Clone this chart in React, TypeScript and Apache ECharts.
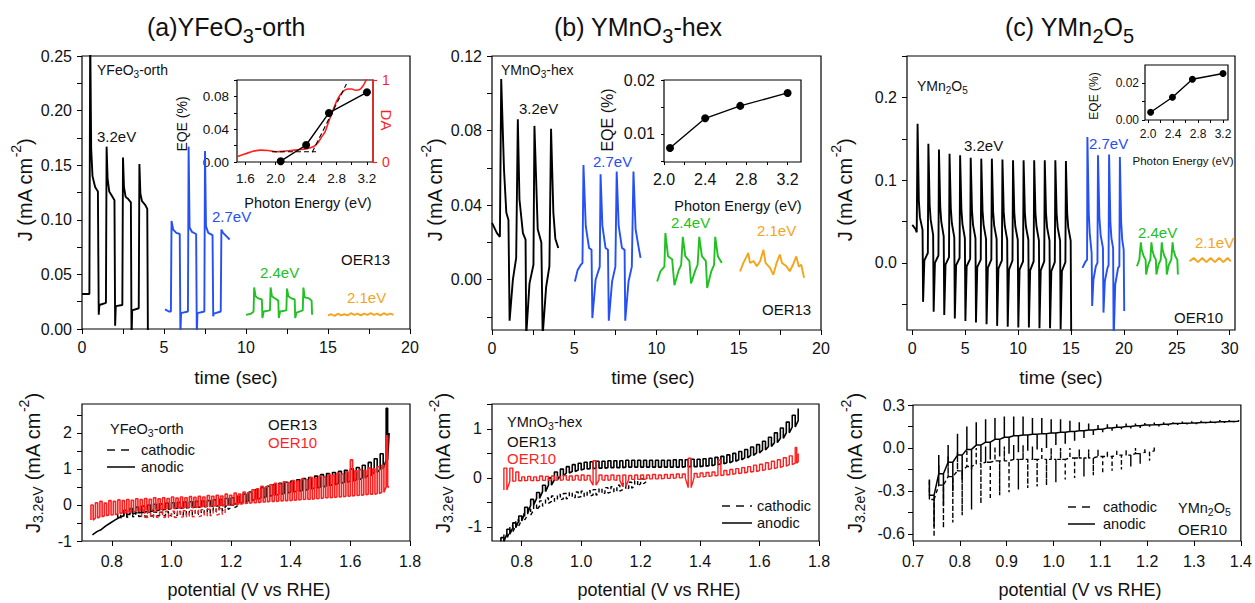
import React, { useEffect, useRef } from 'react';
import * as echarts from 'echarts';

const FONT = '"Liberation Sans", Arial, Helvetica, sans-serif';
const BLUE = '#2450f5';
const GREEN = '#22c022';
const ORANGE = '#f5a41c';
const RED = '#ff1f1f';
const INK = '#111111';

// ---------- (a) YFeO3-orth transients (time s, J mA cm-2)
const aBlack = [[0,0.032],[0.45,0.032],[0.5,0.27],[0.56,0.165],[0.64,0.14],[0.8,0.13],[0.97,0.126],[1.02,0.013],[1.06,0.022],[1.46,0.024],[1.5,0.167],[1.56,0.138],[1.66,0.126],[1.82,0.122],[1.98,0.118],[2.02,0.003],[2.06,0.021],[2.46,0.022],[2.5,0.157],[2.56,0.13],[2.66,0.121],[2.82,0.119],[2.98,0.116],[3.02,-0.01],[3.06,0.017],[3.46,0.019],[3.5,0.151],[3.56,0.124],[3.66,0.117],[3.84,0.114],[3.98,0.11],[4.02,-0.01]];
const aBlue = [[5.06,0.018],[5.3,0.016],[5.42,0.016],[5.46,0.099],[5.56,0.091],[5.75,0.088],[5.96,0.087],[6.0,-0.006],[6.04,0.0146],[6.46,0.016],[6.5,0.167],[6.56,0.093],[6.7,0.089],[6.96,0.087],[7.0,-0.006],[7.04,0.0146],[7.46,0.016],[7.5,0.163],[7.56,0.094],[7.7,0.088],[7.96,0.086],[8.0,0.0116],[8.04,0.014],[8.46,0.016],[8.5,0.091],[8.6,0.088],[8.8,0.085],[9.0,0.082]];
const aGreen = [[10.0,0.013],[10.3,0.014],[10.46,0.016],[10.5,0.038],[10.58,0.03],[10.75,0.028],[10.97,0.027],[11.0,0.01],[11.08,0.016],[11.46,0.017],[11.5,0.038],[11.58,0.03],[11.78,0.028],[11.97,0.026],[12.0,0.01],[12.08,0.016],[12.46,0.017],[12.5,0.037],[12.58,0.03],[12.78,0.028],[12.97,0.027],[13.0,0.01],[13.08,0.015],[13.46,0.017],[13.5,0.038],[13.58,0.029],[13.85,0.028],[14.0,0.026],[14.03,0.013]];
const aOrange = [[15.0,0.0125],[15.2,0.0135],[15.4,0.012],[15.6,0.014],[15.8,0.0125],[16.0,0.0135],[16.2,0.0125],[16.4,0.0145],[16.6,0.013],[16.8,0.014],[17.0,0.0125],[17.2,0.014],[17.4,0.013],[17.6,0.0145],[17.8,0.013],[18.0,0.014],[18.2,0.0125],[18.4,0.0145],[18.6,0.013],[18.8,0.014],[19.0,0.013]];

// ---------- (b) YMnO3-hex transients
const bBlack = [[0,0.0305],[0.3,0.025],[0.48,0.023],[0.56,0.1076],[0.73,0.059],[0.87,0.036],[1.0,0.032],[1.07,-0.022],[1.27,0.0],[1.47,0.0117],[1.57,0.086],[1.67,0.043],[1.88,0.025],[2.04,0.0215],[2.08,-0.03],[2.28,-0.002],[2.52,0.008],[2.58,0.0825],[2.78,0.027],[3.0,0.02],[3.08,-0.03],[3.29,-0.004],[3.49,0.0072],[3.59,0.081],[3.73,0.036],[3.85,0.022],[4.03,0.017]];
const bBlue = [[5.04,-0.001],[5.2,0.005],[5.4,0.008],[5.5,0.009],[5.56,0.0615],[5.7,0.0287],[5.9,0.017],[6.05,0.016],[6.1,-0.0206],[6.3,0.0],[6.55,0.007],[6.6,0.0565],[6.71,0.029],[6.9,0.017],[7.05,0.016],[7.1,-0.022],[7.3,-0.001],[7.5,0.007],[7.58,0.058],[7.7,0.029],[7.9,0.017],[8.06,0.016],[8.1,-0.022],[8.3,-0.001],[8.5,0.007],[8.6,0.058],[8.73,0.027],[8.9,0.018],[9.03,0.0117]];
const bGreen = [[10.04,-0.001],[10.24,0.0045],[10.48,0.007],[10.54,0.025],[10.7,0.0126],[10.95,0.011],[11.09,-0.003],[11.35,0.005],[11.5,0.008],[11.6,0.023],[11.75,0.0126],[12.0,0.01],[12.1,-0.002],[12.36,0.005],[12.5,0.008],[12.6,0.023],[12.76,0.0126],[13.0,0.01],[13.08,-0.0045],[13.33,0.0045],[13.5,0.008],[13.57,0.023],[13.73,0.0126],[13.97,0.009]];
const bOrange = [[15.08,0.0045],[15.28,0.009],[15.48,0.0125],[15.58,0.0143],[15.68,0.009],[15.9,0.01],[16.1,0.0072],[16.3,0.0099],[16.5,0.016],[16.63,0.009],[16.9,0.0063],[17.1,0.0027],[17.3,0.009],[17.5,0.0135],[17.63,0.009],[17.9,0.0072],[18.1,0.0045],[18.3,0.008],[18.5,0.0125],[18.65,0.007],[18.8,0.008],[18.97,0.001]];

// ---------- (c) YMn2O5 transients
const cBlack = [[0.0,0.046],[0.3,0.041],[0.42,0.037],
[0.5,0.168],[0.62,0.075],[0.72,0.055],[0.97,0.04],[1.02,-0.047],[1.14,0.003],[1.47,0.012],
[1.52,0.144],[1.64,0.07],[1.74,0.052],[1.97,0.034],[2.02,-0.059],[2.14,0.0],[2.47,0.009],
[2.52,0.137],[2.64,0.068],[2.74,0.05],[2.97,0.032],[3.02,-0.063],[3.14,-0.002],[3.47,0.007],
[3.52,0.132],[3.64,0.066],[3.74,0.048],[3.97,0.031],[4.02,-0.067],[4.14,-0.003],[4.47,0.006],
[4.52,0.13],[4.64,0.065],[4.74,0.047],[4.97,0.03],[5.02,-0.07],[5.14,-0.004],[5.47,0.005],
[5.52,0.127],[5.64,0.064],[5.74,0.046],[5.97,0.03],[6.02,-0.072],[6.14,-0.005],[6.47,0.004],
[6.52,0.126],[6.64,0.063],[6.74,0.046],[6.97,0.029],[7.02,-0.074],[7.14,-0.006],[7.47,0.004],
[7.52,0.126],[7.64,0.062],[7.74,0.045],[7.97,0.029],[8.02,-0.076],[8.14,-0.007],[8.47,0.003],
[8.52,0.125],[8.64,0.062],[8.74,0.045],[8.97,0.028],[9.02,-0.077],[9.14,-0.008],[9.47,0.003],
[9.52,0.124],[9.64,0.061],[9.74,0.044],[9.97,0.028],[10.02,-0.078],[10.14,-0.008],[10.47,0.002],
[10.52,0.124],[10.64,0.061],[10.74,0.044],[10.97,0.028],[11.02,-0.078],[11.14,-0.009],[11.47,0.002],
[11.52,0.124],[11.64,0.06],[11.74,0.044],[11.97,0.027],[12.02,-0.079],[12.14,-0.009],[12.47,0.002],
[12.52,0.124],[12.64,0.06],[12.74,0.043],[12.97,0.027],[13.02,-0.079],[13.14,-0.01],[13.47,0.001],
[13.52,0.124],[13.64,0.06],[13.74,0.043],[13.97,0.027],[14.02,-0.08],[14.14,-0.01],[14.47,0.001],
[14.52,0.123],[14.64,0.06],[14.74,0.043],[14.97,0.027],[15.02,-0.09]];
const cBlue = [[16.08,-0.006],[16.39,0.002],[16.52,0.004],[16.55,0.152],[16.68,0.06],[16.77,0.036],[16.95,0.012],[17.0,-0.052],[17.12,-0.02],[17.35,-0.004],[17.5,0.0],[17.55,0.13],[17.68,0.055],[17.8,0.034],[18.02,0.018],[18.07,-0.06],[18.2,-0.022],[18.45,-0.006],[18.55,-0.003],[18.6,0.131],[18.72,0.05],[18.82,0.03],[18.98,0.018],[19.03,-0.095],[19.18,-0.026],[19.45,-0.006],[19.57,-0.004],[19.62,0.128],[19.74,0.05],[19.84,0.028],[19.98,0.016],[20.03,-0.058]];
const cGreen = [[21.23,-0.004],[21.46,0.004],[21.6,0.025],[21.68,0.016],[21.87,0.008],[22.05,0.004],[22.1,-0.014],[22.3,-0.002],[22.5,0.004],[22.6,0.025],[22.68,0.016],[22.85,0.008],[23.02,0.004],[23.07,-0.014],[23.27,-0.002],[23.48,0.004],[23.58,0.025],[23.66,0.016],[23.83,0.008],[24.0,0.004],[24.05,-0.014],[24.25,-0.002],[24.48,0.004],[24.6,0.025],[24.68,0.016],[24.86,0.008],[25.05,0.004],[25.1,-0.014]];
const cOrange = [[26.2,0.002],[26.6,0.006],[27.0,0.001],[27.4,0.006],[27.8,0.001],[28.2,0.006],[28.6,0.001],[29.0,0.006],[29.4,0.001],[29.8,0.006],[30.1,0.002]];

// ---------- insets: EQE (%) vs photon energy (eV)
const eqeA = [[2.065,0.001],[2.4,0.0207],[2.7,0.0598],[3.2,0.085]];
const daA = [[1.49,0.065],[1.6,0.1],[1.7,0.13],[1.8,0.145],[1.9,0.14],[2.0,0.125],[2.1,0.13],[2.2,0.14],[2.3,0.15],[2.4,0.16],[2.5,0.19],[2.55,0.23],[2.6,0.3],[2.65,0.37],[2.7,0.5],[2.75,0.62],[2.8,0.74],[2.85,0.82],[2.9,0.87],[2.95,0.89],[3.0,0.89],[3.05,0.875],[3.1,0.88],[3.15,0.93],[3.19,1.0],[3.22,1.05]];
const fitA1 = [[1.95,0.0125],[2.53,0.0125]];
const fitA2 = [[2.48,0.012],[2.93,0.095]];
const eqeB = [[2.058,0.0074],[2.4,0.0129],[2.74,0.0152],[3.2,0.0176]];
const eqeC = [[2.04,0.0042],[2.39,0.0123],[2.71,0.022],[3.2,0.0251]];

// ---------- chopped LSV, [potential, dark, light]
const lsvA_anoBlackLine = [[0.735,-0.83],[0.75,-0.74],[0.765,-0.68],[0.78,-0.58],[0.795,-0.5],[0.81,-0.42],[0.825,-0.35],[0.84,-0.3]];
const lsvA_anoBlack = [[0.84,-0.28,-0.15],[0.86,-0.25,-0.1],[0.88,-0.22,-0.06],[0.9,-0.2,-0.03],[0.92,-0.18,0.0],[0.94,-0.16,0.02],[0.96,-0.14,0.03],[0.98,-0.12,0.05],[1.0,-0.1,0.06],[1.02,-0.09,0.07],[1.04,-0.08,0.08],[1.06,-0.07,0.09],[1.08,-0.06,0.1],[1.1,-0.05,0.11],[1.12,-0.04,0.12],[1.14,-0.03,0.14],[1.16,-0.02,0.16],[1.18,0.0,0.18],[1.2,0.02,0.2],[1.22,0.05,0.24],[1.24,0.08,0.3],[1.26,0.12,0.36],[1.28,0.16,0.42],[1.3,0.2,0.48],[1.32,0.24,0.52],[1.34,0.27,0.56],[1.36,0.3,0.6],[1.38,0.33,0.63],[1.4,0.36,0.66],[1.42,0.38,0.7],[1.44,0.41,0.73],[1.46,0.44,0.76],[1.48,0.47,0.8],[1.5,0.5,0.84],[1.52,0.53,0.87],[1.54,0.56,0.9],[1.56,0.6,0.93],[1.58,0.63,0.96],[1.6,0.66,1.0],[1.62,0.7,1.04],[1.64,0.75,1.1],[1.66,0.82,1.18],[1.68,0.9,1.28],[1.7,1.0,1.42],[1.72,1.25,2.68],[1.73,2.0,2.0]];
const lsvA_catBlack = [[0.82,-0.36,-0.26],[0.84,-0.34,-0.24],[0.86,-0.33,-0.22],[0.88,-0.32,-0.22],[0.9,-0.31,-0.21],[0.92,-0.31,-0.2],[0.94,-0.3,-0.2],[0.96,-0.3,-0.2],[0.98,-0.3,-0.19],[1.0,-0.29,-0.19],[1.02,-0.29,-0.18],[1.04,-0.28,-0.18],[1.06,-0.27,-0.17],[1.08,-0.26,-0.15],[1.1,-0.24,-0.13],[1.12,-0.22,-0.11],[1.14,-0.19,-0.08],[1.16,-0.16,-0.06],[1.18,-0.12,-0.03],[1.2,-0.08,0.0],[1.22,-0.04,0.02]];
const lsvA_anoRed = [[0.73,-0.42,0.0],[0.745,-0.36,0.06],[0.76,-0.33,0.1],[0.775,-0.3,0.05],[0.79,-0.28,0.12],[0.805,-0.27,0.1],[0.82,-0.24,0.14],[0.835,-0.22,0.12],[0.85,-0.2,0.15],[0.865,-0.2,0.13],[0.88,-0.17,0.17],[0.895,-0.16,0.15],[0.91,-0.14,0.18],[0.925,-0.15,0.16],[0.94,-0.12,0.2],[0.955,-0.13,0.17],[0.97,-0.11,0.2],[0.985,-0.1,0.18],[1.0,-0.1,0.22],[1.015,-0.08,0.19],[1.03,-0.09,0.22],[1.045,-0.07,0.2],[1.06,-0.06,0.23],[1.075,-0.07,0.21],[1.09,-0.05,0.24],[1.105,-0.04,0.22],[1.12,-0.04,0.26],[1.135,-0.03,0.24],[1.15,-0.02,0.27],[1.165,-0.02,0.25],[1.18,0.0,0.3],[1.195,0.0,0.27],[1.21,0.02,0.33],[1.225,0.02,0.3],[1.24,0.04,0.36],[1.255,0.05,0.34],[1.27,0.06,0.42],[1.285,0.06,0.45],[1.3,0.08,0.52],[1.315,0.08,0.5],[1.33,0.1,0.56],[1.345,0.1,0.6],[1.36,0.11,0.58],[1.375,0.12,0.64],[1.39,0.12,0.62],[1.405,0.13,0.68],[1.42,0.14,0.66],[1.435,0.15,0.72],[1.45,0.16,0.7],[1.465,0.16,0.76],[1.48,0.17,0.74],[1.495,0.18,0.8],[1.51,0.2,0.78],[1.525,0.2,0.84],[1.54,0.21,0.82],[1.555,0.22,0.88],[1.57,0.23,0.86],[1.585,0.24,0.92],[1.6,0.25,1.25],[1.615,0.26,0.95],[1.63,0.27,0.98],[1.645,0.28,0.96],[1.66,0.3,1.02],[1.675,0.3,1.0],[1.69,0.32,1.06],[1.705,0.35,1.1],[1.72,0.5,1.92],[1.73,0.5,0.5]];
const lsvA_catRed = [[0.9,-0.34,-0.18],[0.92,-0.35,-0.18],[0.94,-0.34,-0.17],[0.96,-0.35,-0.18],[0.98,-0.34,-0.17],[1.0,-0.35,-0.17],[1.02,-0.34,-0.16],[1.04,-0.33,-0.16],[1.06,-0.33,-0.15],[1.08,-0.32,-0.14],[1.1,-0.31,-0.13],[1.12,-0.3,-0.12],[1.14,-0.28,-0.11],[1.16,-0.26,-0.1],[1.18,-0.24,-0.08]];

const lsvB_anoBlack = [[0.73,-1.3,-1.22],[0.75,-1.15,-1.05],[0.77,-1.02,-0.92],[0.79,-0.88,-0.78],[0.81,-0.72,-0.6],[0.83,-0.56,-0.44],[0.85,-0.42,-0.3],[0.87,-0.28,-0.15],[0.89,-0.15,0.0],[0.91,-0.04,0.12],[0.93,0.04,0.18],[0.95,0.1,0.23],[0.97,0.13,0.27],[0.99,0.16,0.3],[1.01,0.18,0.32],[1.03,0.19,0.33],[1.05,0.2,0.34],[1.07,0.2,0.34],[1.09,0.21,0.35],[1.11,0.21,0.35],[1.13,0.21,0.35],[1.15,0.22,0.36],[1.17,0.22,0.36],[1.19,0.22,0.36],[1.21,0.22,0.36],[1.23,0.22,0.36],[1.25,0.22,0.36],[1.27,0.22,0.36],[1.29,0.22,0.36],[1.31,0.22,0.37],[1.33,0.22,0.37],[1.35,0.23,0.37],[1.37,0.23,0.38],[1.39,0.23,0.38],[1.41,0.24,0.39],[1.43,0.25,0.4],[1.45,0.27,0.42],[1.47,0.29,0.44],[1.49,0.31,0.47],[1.51,0.34,0.5],[1.53,0.37,0.54],[1.55,0.41,0.58],[1.57,0.46,0.63],[1.59,0.51,0.68],[1.61,0.57,0.75],[1.63,0.64,0.83],[1.65,0.72,0.92],[1.67,0.81,1.02],[1.69,0.92,1.14],[1.71,1.04,1.28],[1.73,1.17,1.42]];
const lsvB_catBlack = [[0.74,-1.24,-1.14],[0.76,-1.1,-0.98],[0.78,-0.98,-0.86],[0.8,-0.86,-0.74],[0.82,-0.76,-0.64],[0.84,-0.66,-0.55],[0.86,-0.58,-0.47],[0.88,-0.52,-0.41],[0.9,-0.48,-0.37],[0.92,-0.45,-0.34],[0.94,-0.43,-0.32],[0.96,-0.41,-0.3],[0.98,-0.4,-0.29],[1.0,-0.38,-0.27],[1.02,-0.37,-0.26],[1.04,-0.35,-0.24],[1.06,-0.33,-0.22],[1.08,-0.31,-0.2],[1.1,-0.29,-0.18],[1.12,-0.27,-0.15],[1.14,-0.24,-0.12],[1.16,-0.21,-0.09],[1.18,-0.17,-0.06],[1.2,-0.12,-0.02],[1.22,-0.07,0.02]];
const lsvB_anoRed = [[0.74,-0.25,0.2],[0.76,-0.07,0.2],[0.78,-0.06,0.12],[0.8,-0.06,0.02],[0.82,-0.05,0.03],[0.84,-0.06,0.02],[0.86,-0.05,0.04],[0.88,-0.05,0.03],[0.9,-0.04,0.04],[0.92,-0.05,0.03],[0.94,-0.04,0.05],[0.96,-0.05,0.04],[0.98,-0.04,0.05],[1.0,-0.05,0.06],[1.02,-0.04,0.05],[1.04,-0.15,0.35],[1.06,-0.04,0.06],[1.08,-0.05,0.05],[1.1,-0.04,0.06],[1.12,-0.05,0.05],[1.14,-0.18,0.06],[1.16,-0.03,0.05],[1.18,-0.03,0.06],[1.2,-0.03,0.06],[1.22,-0.02,0.06],[1.24,-0.02,0.07],[1.26,-0.02,0.06],[1.28,-0.01,0.07],[1.3,-0.01,0.07],[1.32,0.0,0.08],[1.34,0.0,0.08],[1.36,-0.2,0.4],[1.38,0.01,0.09],[1.4,0.02,0.1],[1.42,0.03,0.11],[1.44,0.04,0.12],[1.46,0.05,0.36],[1.48,0.06,0.15],[1.5,0.07,0.17],[1.52,0.09,0.19],[1.54,0.1,0.21],[1.56,0.12,0.23],[1.58,0.13,0.26],[1.6,0.15,0.28],[1.62,0.17,0.31],[1.64,0.19,0.34],[1.66,0.21,0.37],[1.68,0.24,0.41],[1.7,0.27,0.45],[1.72,0.3,0.62],[1.73,0.33,0.5]];

// (c) [potential, dark, light-on spike, light-off spike]
const lsvC_ano = [[0.735,-0.33,-0.22,-0.55],[0.755,-0.18,-0.05,-0.4],[0.775,-0.1,0.02,-0.3],[0.795,-0.05,0.1,-0.22],[0.815,-0.01,0.15,-0.15],[0.835,0.02,0.18,-0.1],[0.855,0.04,0.2,-0.08],[0.875,0.06,0.21,-0.06],[0.895,0.075,0.22,-0.04],[0.915,0.085,0.22,-0.03],[0.935,0.09,0.22,-0.02],[0.955,0.095,0.21,-0.01],[0.975,0.1,0.21,0.0],[0.995,0.105,0.2,0.02],[1.015,0.11,0.2,0.03],[1.035,0.115,0.19,0.05],[1.055,0.12,0.18,0.07],[1.075,0.125,0.17,0.09],[1.095,0.13,0.16,0.11],[1.115,0.14,0.165,0.12],[1.135,0.145,0.165,0.13],[1.155,0.15,0.17,0.135],[1.175,0.155,0.17,0.14],[1.195,0.16,0.175,0.148],[1.215,0.162,0.178,0.15],[1.235,0.165,0.18,0.155],[1.255,0.17,0.18,0.16],[1.275,0.172,0.185,0.163],[1.295,0.175,0.186,0.166],[1.315,0.178,0.19,0.17],[1.335,0.18,0.19,0.172],[1.355,0.183,0.195,0.175],[1.375,0.185,0.195,0.178],[1.395,0.187,0.196,0.18]];
const lsvC_cat = [[0.735,-0.36,-0.22,-0.62],[0.755,-0.26,-0.12,-0.56],[0.775,-0.2,-0.06,-0.52],[0.795,-0.16,-0.03,-0.47],[0.815,-0.13,-0.01,-0.43],[0.835,-0.11,0.0,-0.39],[0.855,-0.1,0.01,-0.36],[0.875,-0.09,0.01,-0.33],[0.895,-0.09,0.01,-0.31],[0.915,-0.08,0.02,-0.29],[0.935,-0.08,0.02,-0.28],[0.955,-0.08,0.01,-0.27],[0.975,-0.08,0.01,-0.26],[0.995,-0.08,0.0,-0.24],[1.015,-0.08,0.0,-0.22],[1.035,-0.07,0.0,-0.21],[1.055,-0.07,-0.01,-0.2],[1.075,-0.07,-0.01,-0.19],[1.095,-0.06,-0.01,-0.18],[1.115,-0.06,-0.02,-0.16],[1.135,-0.05,-0.01,-0.15],[1.155,-0.05,-0.01,-0.13],[1.175,-0.04,0.0,-0.11],[1.195,-0.03,0.0,-0.09],[1.215,-0.02,0.01,-0.06]];

// ---------- tick / label values
const tAx = [0, 5, 10, 15, 20];
const tAyTicks = [0, 0.05, 0.1, 0.15, 0.2, 0.25];
const tByTicks = [-0.02, 0, 0.02, 0.04, 0.06, 0.08, 0.1, 0.12];
const tByLabels = [0, 0.04, 0.08, 0.12];
const tCx = [0, 5, 10, 15, 20, 25, 30];
const tCyTicks = [-0.05, 0, 0.05, 0.1, 0.15, 0.2, 0.25];
const tCyLabels = [0, 0.1, 0.2];
const lAB_x = [0.8, 1.0, 1.2, 1.4, 1.6, 1.8];
const lA_yTicks = [-1, -0.5, 0, 0.5, 1, 1.5, 2, 2.5];
const lA_yLabels = [-1, 0, 1, 2];
const lB_yTicks = [-1, -0.5, 0, 0.5, 1, 1.5];
const lB_yLabels = [-1, 0, 1];
const lC_x = [0.7, 0.8, 0.9, 1.0, 1.1, 1.2, 1.3, 1.4];
const lC_yTicks = [-0.6, -0.45, -0.3, -0.15, 0, 0.15, 0.3];
const lC_yLabels = [-0.6, -0.3, 0, 0.3];
const iAxTicks = [1.6, 1.8, 2.0, 2.2, 2.4, 2.6, 2.8, 3.0, 3.2];
const iAxLabels = [1.6, 2.0, 2.4, 2.8, 3.2];
const iAyTicks = [0, 0.02, 0.04, 0.06, 0.08, 0.1];
const iAyLabels = [0, 0.04, 0.08];
const iBCxTicks = [2.0, 2.2, 2.4, 2.6, 2.8, 3.0, 3.2];
const iBCxLabels = [2.0, 2.4, 2.8, 3.2];
const iByTicks = [0.005, 0.01, 0.015, 0.02];
const iByLabels = [0.01, 0.02];
const iCyTicks = [0, 0.01, 0.02];
const iCyLabels = [0, 0.02];

function square(tr: number[][]) {
  const pts: number[][] = [];
  tr.forEach((t, i) => {
    const [v, lo, hi] = t;
    pts.push([v, lo], [v, hi]);
    if (i < tr.length - 1) {
      const mid = (v + tr[i + 1][0]) / 2;
      pts.push([mid, hi], [mid, lo]);
    }
  });
  return pts;
}

function spikes(q: number[][]) {
  const pts: number[][] = [];
  q.forEach((t, i) => {
    const [v, base, top, bottom] = t;
    pts.push([v, base], [v, top], [v, base]);
    if (i < q.length - 1) {
      const mid = (v + q[i + 1][0]) / 2;
      pts.push([mid, base], [mid, bottom], [mid, base]);
    }
  });
  return pts;
}

const f0 = (v: number) => String(Math.round(v));
const f1 = (v: number) => v.toFixed(1);
const f2 = (v: number) => v.toFixed(2);

function axis(grid: number, min: number, max: number, ticks: number[], labels: number[], fmt: any, size: number, margin: number, len: number, extra: any = {}) {
  return {
    type: 'value', gridIndex: grid, min, max,
    axisLine: { show: false, onZero: false },
    splitLine: { show: false },
    axisTick: { show: true, customValues: ticks, length: len, inside: false, lineStyle: { color: '#000', width: 1 } },
    axisLabel: { show: true, customValues: labels, formatter: fmt, fontSize: size, fontFamily: FONT, color: INK, margin },
    ...extra,
  };
}

function line(xi: number, yi: number, data: number[][], color: string, width: number, dash?: any, extra: any = {}) {
  return {
    type: 'line', xAxisIndex: xi, yAxisIndex: yi, data,
    symbol: 'none', showSymbol: false, clip: true, silent: true,
    lineStyle: { color, width, type: dash || 'solid' },
    itemStyle: { color },
    ...extra,
  };
}

function rs(size: number, color: string, shift: number) {
  const s: any = { fontSize: size, fontFamily: FONT, fill: color };
  if (shift > 0) s.padding = [2 * shift, 0, 0, 0];
  if (shift < 0) s.padding = [0, 0, -2 * shift, 0];
  return s;
}
function richSet(color: string, base: number, sub: number, subShift: number, sup = 0, supShift = 0) {
  return { n: rs(base, color, 0), s: rs(sub || base, color, subShift), b: rs(sub || base, color, subShift), p: rs(sup || base, color, -supShift) };
}

function T(x: number, y: number, text: string, o: any = {}) {
  return {
    type: 'text', x, y, silent: true, rotation: o.rot || 0,
    style: {
      text, fill: o.color || INK, fontSize: o.size || 15, fontFamily: FONT,
      align: o.align || 'left', verticalAlign: 'middle', rich: o.rich,
    },
  };
}
function L(x1: number, y1: number, x2: number, y2: number, dashed: boolean) {
  return {
    type: 'line', silent: true,
    shape: { x1, y1, x2, y2 },
    style: { stroke: INK, lineWidth: 1.6, lineDash: dashed ? [8, 6] : null },
  };
}

function buildOption() {
  const gridDefs = [
    { left: 82, top: 56, width: 328, height: 273 },
    { left: 492, top: 56, width: 329, height: 274 },
    { left: 907, top: 56, width: 328, height: 274 },
    { left: 82, top: 404, width: 328, height: 137 },
    { left: 492, top: 404, width: 327, height: 137 },
    { left: 913, top: 405, width: 329, height: 136 },
    { left: 237, top: 80, width: 136, height: 82, backgroundColor: '#fff' },
    { left: 664, top: 80, width: 137, height: 82, backgroundColor: '#fff' },
    { left: 1145, top: 65, width: 83, height: 55, backgroundColor: '#fff' },
  ];
  const grid = gridDefs.map((g: any) => ({
    show: true, borderColor: '#000', borderWidth: 1.2, containLabel: false,
    backgroundColor: g.backgroundColor || 'transparent',
    left: g.left, top: g.top, width: g.width, height: g.height,
  }));

  const xAxis = [
    axis(0, 0, 20, [0, 2.5, 5, 7.5, 10, 12.5, 15, 17.5, 20], tAx, f0, 16, 10, 5),
    axis(1, 0, 20, [0, 2.5, 5, 7.5, 10, 12.5, 15, 17.5, 20], tAx, f0, 16, 10, 5),
    axis(2, -0.5, 30.5, tCx, tCx, f0, 16, 10, 5),
    axis(3, 0.7, 1.8, lAB_x, lAB_x, f1, 16, 12, 5),
    axis(4, 0.7, 1.8, lAB_x, lAB_x, f1, 16, 12, 5),
    axis(5, 0.7, 1.4, lC_x, lC_x, f1, 16, 12, 5),
    axis(6, 1.49, 3.28, iAxTicks, iAxLabels, f1, 13.5, 9, 3),
    axis(7, 2.0, 3.33, iBCxTicks, iBCxLabels, f1, 16, 9, 3),
    axis(8, 1.95, 3.28, iBCxTicks, iBCxLabels, f1, 12, 8, 3),
  ];
  const yAxis = [
    axis(0, 0, 0.25, [0, 0.025, 0.05, 0.075, 0.1, 0.125, 0.15, 0.175, 0.2, 0.225, 0.25], tAyTicks, f2, 16, 10, 5),
    axis(1, -0.027, 0.12, tByTicks, tByLabels, f2, 16, 10, 5),
    axis(2, -0.081, 0.25, tCyTicks, tCyLabels, f1, 16, 10, 5),
    axis(3, -1, 2.8, lA_yTicks, lA_yLabels, f0, 16, 10, 5),
    axis(4, -1.29, 1.51, lB_yTicks, lB_yLabels, f0, 16, 10, 5),
    axis(5, -0.65, 0.3, lC_yTicks, lC_yLabels, f1, 16, 8, 5),
    axis(6, 0, 0.1, iAyTicks, iAyLabels, f2, 13.5, 8, 3),
    axis(7, 0.0048, 0.02, iByTicks, iByLabels, f2, 16, 9, 3),
    axis(8, 0, 0.0297, iCyTicks, iCyLabels, f2, 12, 6, 3),
    {
      type: 'value', gridIndex: 6, position: 'right', min: 0, max: 1,
      axisLine: { show: true, onZero: false, lineStyle: { color: RED, width: 1.5 } },
      splitLine: { show: false },
      axisTick: { show: true, customValues: [0, 1], length: 4, lineStyle: { color: RED, width: 1.2 } },
      axisLabel: { show: true, customValues: [0, 1], formatter: f0, fontSize: 14, fontFamily: FONT, color: RED, margin: 9 },
    },
  ];

  const LW = 1.9;
  const LB = 1.4;
  const series = [
    line(0, 0, aBlack, '#000', LW), line(0, 0, aBlue, BLUE, LW), line(0, 0, aGreen, GREEN, LW), line(0, 0, aOrange, ORANGE, LW),
    line(1, 1, bBlack, '#000', LW), line(1, 1, bBlue, BLUE, LW), line(1, 1, bGreen, GREEN, LW), line(1, 1, bOrange, ORANGE, LW),
    line(2, 2, cBlack, '#000', LW), line(2, 2, cBlue, BLUE, LW), line(2, 2, cGreen, GREEN, LW), line(2, 2, cOrange, ORANGE, LW),

    line(3, 3, [...lsvA_anoBlackLine, ...square(lsvA_anoBlack)], '#000', 1.6),
    line(3, 3, square(lsvA_catBlack), '#000', LB, [4, 3]),
    line(3, 3, square(lsvA_anoRed), RED, 1.6),
    line(3, 3, square(lsvA_catRed), RED, LB, [4, 3]),

    line(4, 4, square(lsvB_catBlack), '#000', LB, [4, 3]),
    line(4, 4, square(lsvB_anoBlack), '#000', 1.6),
    line(4, 4, square(lsvB_anoRed), RED, LB),

    line(5, 5, spikes(lsvC_cat), '#000', LB, [4, 3]),
    line(5, 5, spikes(lsvC_ano), '#000', 1.5),

    line(6, 9, daA, RED, 1.6, null, { smooth: 0.3 }),
    line(6, 6, fitA1, '#000', 1.1, [5, 3]),
    line(6, 6, fitA2, '#000', 1.1, [5, 3]),
    line(6, 6, eqeA, '#000', 1.4, null, { symbol: 'circle', showSymbol: true, symbolSize: 8 }),
    line(7, 7, eqeB, '#000', 1.4, null, { symbol: 'circle', showSymbol: true, symbolSize: 8 }),
    line(8, 8, eqeC, '#000', 1.4, null, { symbol: 'circle', showSymbol: true, symbolSize: 7 }),
  ];

  const rTitle = richSet(INK, 25, 20, 9);
  const r14 = richSet(INK, 14, 10, 4);
  const r145 = richSet(INK, 14.5, 10.5, 4);
  const rYTop = richSet(INK, 20, 0, 0, 14, 9);
  const rYBot = richSet(INK, 20, 14, 5, 14, 9);
  const R90 = Math.PI / 2;

  const graphic = [
    T(147, 27, '{n|(a)YFeO}{s|3}{n|-orth}', { rich: rTitle }),
    T(554, 27, '{n|(b) YMnO}{s|3}{n|-hex}', { rich: rTitle }),
    T(1005, 27, '{n|(c) YMn}{s|2}{n|O}{s|5}', { rich: rTitle }),

    T(97, 70, '{n|YFeO}{s|3}{n|-orth}', { rich: r14 }),
    T(97, 136, '3.2eV'),
    T(212, 216, '2.7eV', { color: BLUE }),
    T(260, 272, '2.4eV', { color: GREEN }),
    T(347, 297, '2.1eV', { color: ORANGE }),
    T(341, 259, 'OER13'),

    T(501, 70, '{n|YMnO}{s|3}{n|-hex}', { rich: r14 }),
    T(519, 108, '3.2eV'),
    T(593, 161, '2.7eV', { color: BLUE }),
    T(671, 222, '2.4eV', { color: GREEN }),
    T(757, 230, '2.1eV', { color: ORANGE }),
    T(762, 309, 'OER13'),

    T(917, 86, '{n|YMn}{s|2}{n|O}{s|5}', { rich: r14 }),
    T(964, 145, '3.2eV'),
    T(1089, 143, '2.7eV', { color: BLUE }),
    T(1138, 232, '2.4eV', { color: GREEN }),
    T(1195, 242, '2.1eV', { color: ORANGE }),
    T(1174, 317, 'OER10'),

    T(236, 377, 'time (sec)', { size: 19, align: 'center' }),
    T(653, 377, 'time (sec)', { size: 19, align: 'center' }),
    T(1061, 377, 'time (sec)', { size: 19, align: 'center' }),
    T(249, 590, 'potential (V vs RHE)', { size: 18, align: 'center' }),
    T(659, 590, 'potential (V vs RHE)', { size: 18, align: 'center' }),
    T(1080, 590, 'potential (V vs RHE)', { size: 18, align: 'center' }),

    T(25, 190, '{n|J (mA cm}{p|-2}{n|)}', { rot: R90, align: 'center', rich: rYTop }),
    T(435, 190, '{n|J (mA cm}{p|-2}{n|)}', { rot: R90, align: 'center', rich: rYTop }),
    T(845, 190, '{n|J (mA cm}{p|-2}{n|)}', { rot: R90, align: 'center', rich: rYTop }),
    T(33, 463, '{n|J}{b|3.2eV}{n| (mA cm}{p|-2}{n|)}', { rot: R90, align: 'center', rich: rYBot }),
    T(443, 463, '{n|J}{b|3.2eV}{n| (mA cm}{p|-2}{n|)}', { rot: R90, align: 'center', rich: rYBot }),
    T(855, 463, '{n|J}{b|3.2eV}{n| (mA cm}{p|-2}{n|)}', { rot: R90, align: 'center', rich: rYBot }),

    T(182, 124, 'EQE (%)', { rot: R90, align: 'center', size: 14 }),
    T(308, 203, 'Photon Energy (eV)', { align: 'center', size: 14.5 }),
    T(386, 120, 'DA', { rot: -R90, align: 'center', size: 15, color: RED }),
    T(607, 120, 'EQE (%)', { rot: R90, align: 'center', size: 16 }),
    T(738, 206, 'Photon Energy (eV)', { align: 'center', size: 14.5 }),
    T(1094, 96, 'EQE (%)', { rot: R90, align: 'center', size: 12 }),
    T(1183, 161, 'Photon Energy (eV)', { align: 'center', size: 11.5 }),

    T(110, 429, '{n|YFeO}{s|3}{n|-orth}', { rich: r145 }),
    L(107, 450, 135, 450, true), T(141, 450, 'cathodic', { size: 14.5 }),
    L(107, 467, 135, 467, false), T(141, 467, 'anodic', { size: 14.5 }),
    T(268, 424, 'OER13', { size: 15 }),
    T(268, 442, 'OER10', { size: 15, color: RED }),

    T(507, 422, '{n|YMnO}{s|3}{n|-hex}', { rich: r145 }),
    T(507, 441, 'OER13', { size: 15 }),
    T(507, 458, 'OER10', { size: 15, color: RED }),
    L(722, 506, 752, 506, true), T(757, 506, 'cathodic', { size: 14.5 }),
    L(722, 523, 752, 523, false), T(757, 523, 'anodic', { size: 14.5 }),

    L(1068, 507, 1095, 507, true), T(1103, 507, 'cathodic', { size: 14.5 }),
    L(1068, 524, 1095, 524, false), T(1103, 524, 'anodic', { size: 14.5 }),
    T(1178, 508, '{n|YMn}{s|2}{n|O}{s|5}', { rich: r145 }),
    T(1178, 529, 'OER10', { size: 15 }),
  ];

  return {
    animation: false,
    backgroundColor: '#ffffff',
    textStyle: { fontFamily: FONT },
    grid, xAxis, yAxis, series, graphic,
  };
}

export default function App() {
  const ref = useRef<HTMLDivElement>(null);
  useEffect(() => {
    const chart = echarts.init(ref.current as HTMLDivElement, null, { renderer: 'svg' });
    chart.setOption(buildOption() as any);
    return () => chart.dispose();
  }, []);
  return (
    <div
      ref={ref}
      style={{ position: 'fixed', left: 0, top: 0, width: 1255, height: 603, background: '#fff' }}
    />
  );
}
